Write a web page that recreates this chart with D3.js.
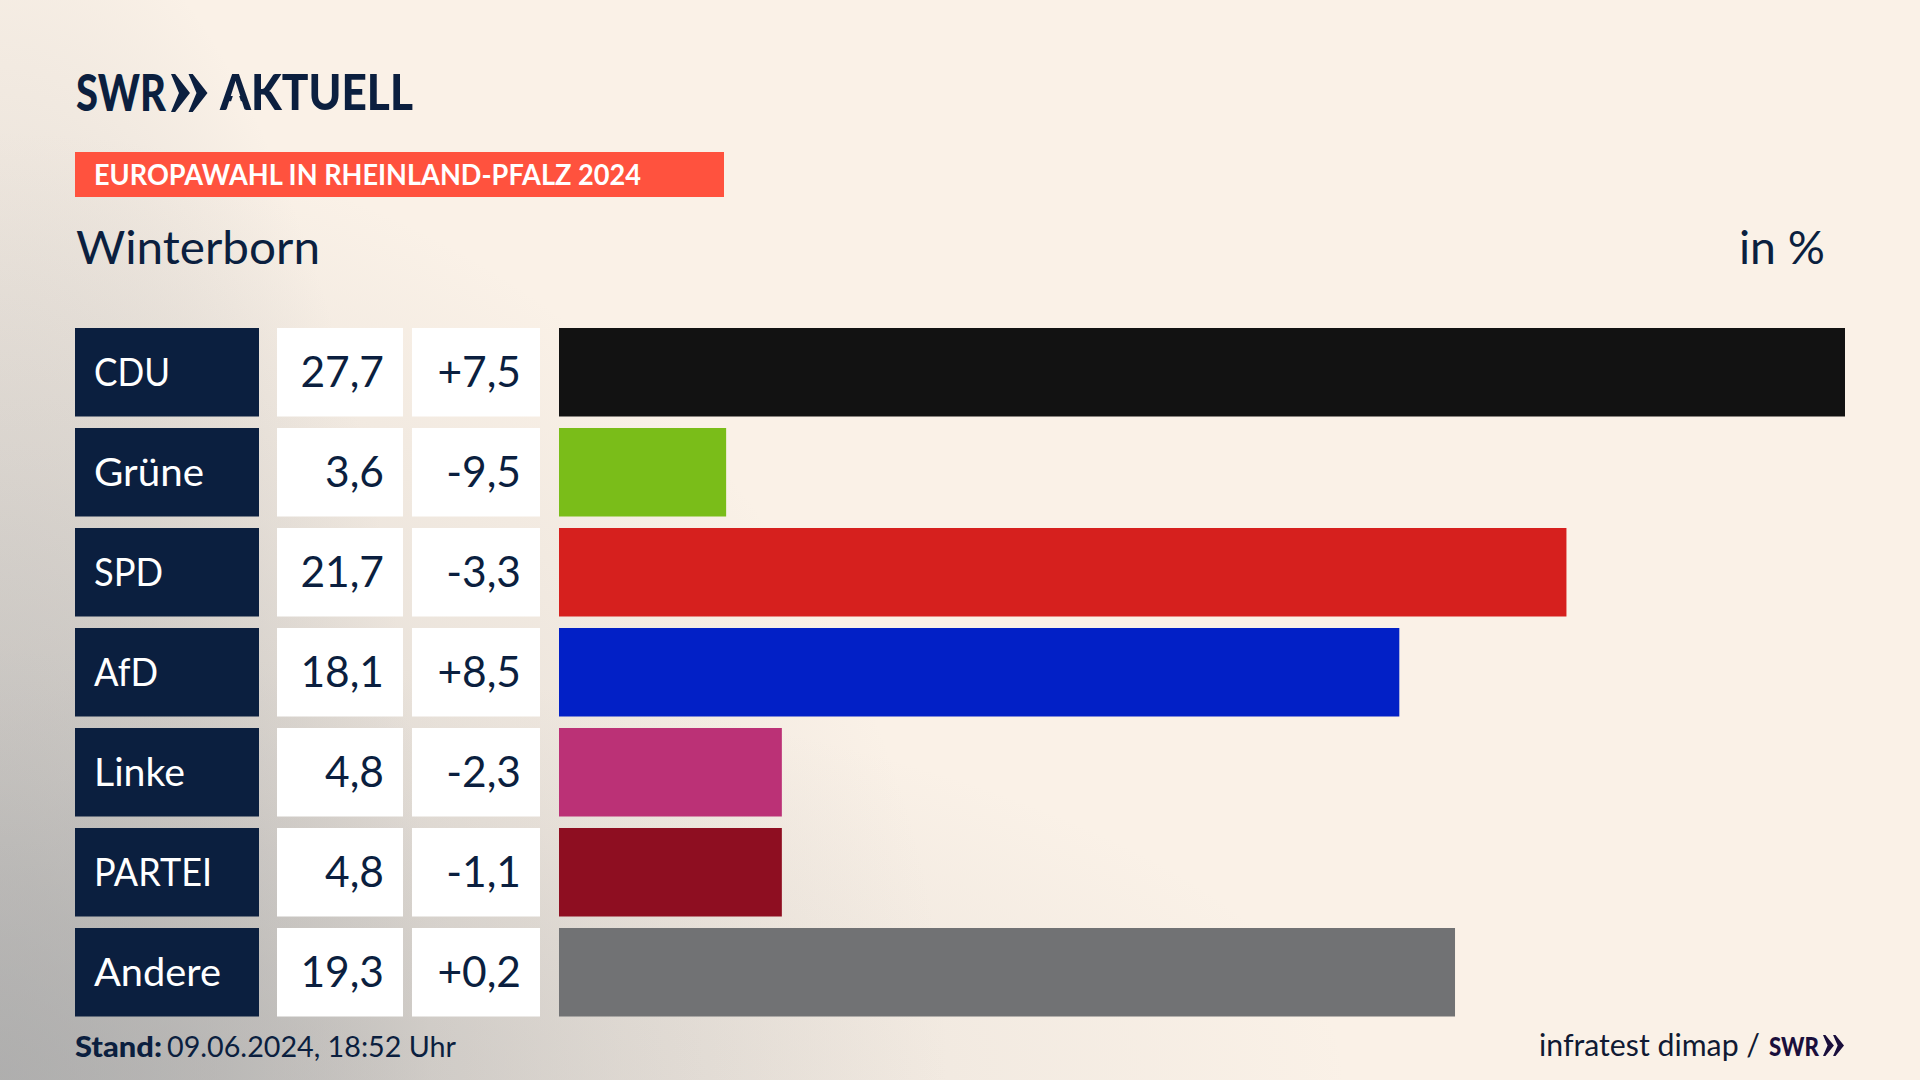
<!DOCTYPE html>
<html><head><meta charset="utf-8">
<script src="https://cdn.jsdelivr.net/npm/d3@7"></script>
<style>html,body{margin:0;padding:0;background:#faf1e6;overflow:hidden}svg{display:block}text{font-family:Lato,"Noto Sans",sans-serif}</style>
</head><body><svg id="c" width="1920" height="1080"></svg>
<script>
const parties = ["CDU","Grüne","SPD","AfD","Linke","PARTEI","Andere"];
const shares = [27.7,3.6,21.7,18.1,4.8,4.8,19.3];
const changes = ["+7,5","-9,5","-3,3","+8,5","-2,3","-1,1","+0,2"];
const colors = ["#121212","#7abd19","#d6201e","#0220c6","#bb3176","#8e0e21","#717274"];
const labelFit = [76,110,69,64,91,118,127];
const fmt = v => String(v).replace(".",",");
const navy = "#0b1f3f", cream = "#faf1e7";
const svg = d3.select("#c");
const defs = svg.append("defs");
svg.append("rect").attr("width",1920).attr("height",1080).attr("fill",cream);

// background: soft grey glow out of the lower left corner
function glow(id,rx,ry,stops){
  const g = defs.append("radialGradient").attr("id",id).attr("gradientUnits","userSpaceOnUse")
    .attr("cx",0).attr("cy",0).attr("r",1).attr("gradientTransform",`translate(0,1080) scale(${rx},${ry})`);
  stops.forEach(s=>g.append("stop").attr("offset",s[0]).attr("stop-color","#aaaaaa").attr("stop-opacity",s[1]));
  svg.append("rect").attr("width",1920).attr("height",1080).attr("fill",`url(#${id})`);
}
glow("gl",430,1200,[[0,.55],[.5,.3],[.75,.16],[1,0]]);
glow("gb",1350,430,[[0,.55],[.4,.27],[.7,.1],[1,0]]);
glow("gc",950,950,[[0,.7],[.35,.38],[.65,.17],[1,0]]);

const y = d3.scaleBand().domain(parties).range([328,1016.5]).paddingInner(0.115);
const x = d3.scaleLinear().domain([0,27.7]).range([559,1845]);

function fit(sel,w){return sel.attr("textLength",w).attr("lengthAdjust","spacingAndGlyphs");}
function txt(xp,yp,s,size,fill,weight,anchor){return svg.append("text").attr("x",xp).attr("y",yp).attr("font-size",size).attr("fill",fill).attr("font-weight",weight||400).attr("text-anchor",anchor||"start").text(s);}
function chev(x0,y0,w,h,fill){
  const cw=w*0.52;
  [0,w-cw].forEach(dx=>{
    const p=[[0,0],[.22,0],[1,.5],[.22,1],[0,1],[.42,.5]].map(q=>[x0+dx+q[0]*cw,y0+q[1]*h]);
    svg.append("path").attr("fill",fill).attr("d",d3.line()(p)+"Z");
  });
}

// header
fit(txt(76,111,"SWR",51,navy,900),90);
chev(171,74,36.5,38,navy);
const m = defs.append("mask").attr("id","noBar").attr("maskUnits","userSpaceOnUse").attr("x",200).attr("y",60).attr("width",240).attr("height",60);
m.append("rect").attr("x",200).attr("y",60).attr("width",240).attr("height",60).attr("fill","#fff");
m.append("path").attr("fill","#000").attr("d",d3.line()([[236,86],[244,111],[228,111]])+"Z");
fit(txt(220,110,"AKTUELL",49,navy,900),193).attr("mask","url(#noBar)");
svg.append("rect").attr("x",75).attr("y",152).attr("width",649).attr("height",45).attr("fill","#ff523e");
fit(txt(94,185,"EUROPAWAHL IN RHEINLAND-PFALZ 2024",28,"#fff",700),547);
fit(txt(76,264,"Winterborn",46,navy),244);
fit(txt(1739,264,"in %",46,navy),86);

// rows
const rows = svg.selectAll("g.row").data(parties).join("g").attr("class","row");
rows.append("rect").attr("x",75).attr("y",d=>y(d)).attr("width",184).attr("height",y.bandwidth()).attr("fill",navy);
rows.append("rect").attr("x",277).attr("y",d=>y(d)).attr("width",126).attr("height",y.bandwidth()).attr("fill","#fff");
rows.append("rect").attr("x",412).attr("y",d=>y(d)).attr("width",128).attr("height",y.bandwidth()).attr("fill","#fff");
rows.append("rect").attr("x",x(0)).attr("y",d=>y(d)).attr("width",(d,i)=>x(shares[i])-x(0)).attr("height",y.bandwidth()).attr("fill",(d,i)=>colors[i]);
rows.append("text").attr("x",94).attr("y",d=>y(d)+58).attr("font-size",39).attr("fill","#fff").attr("textLength",(d,i)=>labelFit[i]).attr("lengthAdjust","spacingAndGlyphs").text(d=>d);
rows.append("text").attr("x",384).attr("y",d=>y(d)+59).attr("font-size",42.5).attr("fill",navy).attr("text-anchor","end").text((d,i)=>fmt(shares[i]));
rows.append("text").attr("x",521).attr("y",d=>y(d)+59).attr("font-size",42.5).attr("fill",navy).attr("text-anchor","end").text((d,i)=>changes[i]);

// footer
fit(txt(75,1057,"Stand:",29,navy,900),87);
fit(txt(167,1057,"09.06.2024, 18:52 Uhr",29,navy),289);
fit(txt(1539,1056,"infratest dimap /",30,"#101a33"),221);
fit(txt(1769,1056,"SWR",27,"#1a0f3c",900),50);
chev(1823,1035,21,21,"#1a0f3c");
</script></body></html>
